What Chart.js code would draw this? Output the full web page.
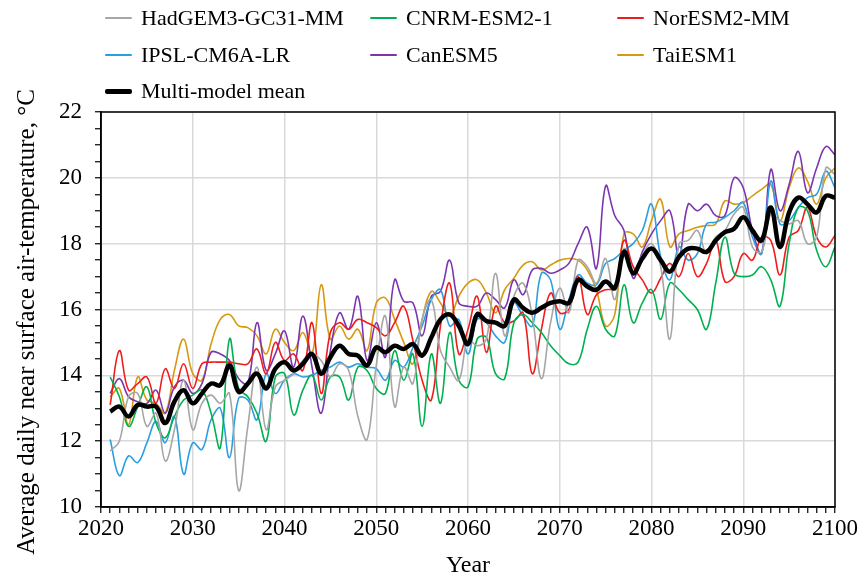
<!DOCTYPE html>
<html>
<head>
<meta charset="utf-8">
<script src="https://cdn.jsdelivr.net/npm/chart.js@4"></script>
<style>
  body { margin: 0; background: #fff; }
  #wrap { position: relative; width: 860px; height: 580px; }
  #legend {
    position: absolute; left: 105px; top: 5px;
    display: grid; grid-template-columns: 265px 247px auto; grid-auto-rows: 36.5px;
    font-family: "Liberation Serif", "Times New Roman", serif; font-size: 22px; color: #000;
  }
  #legend .item { display: flex; align-items: center; height: 26px; white-space: nowrap; }
  #legend .swatch { width: 27px; margin-right: 9px; border-radius: 2px; }
</style>
</head>
<body>
<div id="wrap">
  <canvas id="tempChart" width="860" height="580"></canvas>
  <div id="legend"></div>
</div>
<script>
// années et séries
const years = [];
for (let y = 2021; y <= 2100; y++) years.push(y);

const hadgem = [11.7, 12.0, 13.35, 13.45, 12.45, 12.85, 11.4, 12.35, 13.85, 12.35,
  13.15, 13.4, 13.15, 13.45, 10.5, 12.45, 14.25, 12.35, 13.65, 13.85,
  14.05, 14.45, 14.65, 14.45, 13.95, 14.35, 14.15, 12.75, 12.05, 14.3,
  15.8, 13.05, 14.25, 13.75, 15.7, 16.3, 14.75, 14.25, 13.85, 15.1,
  14.9, 15.1, 17.1, 15.2, 16.4, 16.8, 15.8, 13.9, 15.6, 16.65,
  15.9, 17.5, 17.3, 16.8, 17.55, 16.3, 17.85, 17.1, 17.65, 18.0,
  17.3, 15.1, 18.0, 18.1, 18.4, 17.7, 18.2, 18.4, 18.9, 19.1,
  17.9, 17.75, 18.9, 18.7, 18.6, 18.7, 18.0, 18.2, 20.3, 20.1];

const cnrm = [13.95, 13.35, 12.45, 13.05, 13.65, 12.55, 12.1, 12.75, 13.25, 13.4,
  13.55, 12.85, 11.8, 15.1, 13.6, 13.35, 12.85, 12.0, 13.95, 14.05,
  12.8, 13.55, 14.0, 13.25, 13.95, 13.95, 13.25, 14.25, 14.15, 13.6,
  13.45, 14.75, 13.85, 14.65, 12.45, 14.65, 13.15, 15.3, 13.85, 13.65,
  15.1, 15.15, 14.05, 13.9, 15.6, 15.85, 15.6, 15.3, 14.9, 14.6,
  14.35, 14.4, 15.4, 16.1, 15.4, 15.2, 16.75, 15.6, 16.2, 16.6,
  15.7, 16.8, 16.6, 16.3, 16.0, 15.4, 16.8, 18.2, 17.1, 17.0,
  17.05, 17.3, 16.9, 16.1, 18.0, 19.1, 19.0, 17.8, 17.3, 17.9];

const noresm = [13.1, 14.75, 13.55, 13.75, 13.95, 13.15, 14.2, 13.6, 14.35, 13.6,
  14.35, 14.4, 14.4, 14.4, 14.35, 14.35, 14.8, 14.05, 15.0, 14.45,
  14.65, 14.15, 15.6, 13.45, 15.3, 15.6, 15.4, 15.7, 15.6, 15.45,
  15.2, 15.6, 16.1, 15.05, 13.85, 13.25, 15.5, 16.8, 14.65, 15.4,
  16.4, 14.7, 16.1, 15.6, 15.65, 15.9, 14.05, 15.4, 16.5, 15.9,
  16.0, 17.0, 15.85, 16.45, 16.6, 16.65, 18.1, 17.3, 16.9, 16.5,
  16.95, 17.4, 17.0, 17.7, 17.0, 17.4, 18.1, 16.85, 17.0, 17.7,
  17.5, 18.2, 18.1, 17.05, 18.2, 18.4, 19.1, 18.2, 17.9, 18.25];

const ipsl = [12.05, 10.95, 11.55, 11.35, 11.95, 12.6, 11.95, 12.75, 11.0, 11.95,
  11.75, 12.65, 13.0, 11.5, 13.3, 13.25, 12.65, 14.05, 13.45, 13.85,
  14.05, 13.95, 14.0, 14.15, 14.25, 14.4, 14.25, 14.35, 14.25, 14.2,
  13.85, 14.45, 14.25, 14.85, 15.5, 16.3, 16.6, 15.5, 15.7, 14.65,
  15.7, 15.6, 15.2, 15.0, 16.2, 15.8, 15.5, 17.1, 16.9, 15.4,
  16.3, 17.05, 16.8, 16.75, 17.4, 17.55, 17.8, 18.0, 18.4, 19.2,
  17.6, 16.9, 17.9, 17.5, 17.7, 18.6, 18.65, 18.8, 19.0, 19.25,
  18.2, 17.7, 19.9, 18.6, 18.7, 19.1, 19.4, 19.5, 20.2, 19.7];

const canesm = [13.45, 13.9, 13.35, 13.2, 13.15, 13.55, 12.85, 13.65, 13.85, 13.45,
  13.75, 14.7, 14.65, 14.45, 13.9, 13.75, 15.6, 14.15, 14.65, 15.35,
  14.25, 15.8, 14.25, 12.85, 14.75, 15.9, 15.4, 16.4, 14.45, 15.6,
  14.55, 16.9, 16.25, 16.2, 15.2, 16.4, 16.55, 17.5, 16.2, 16.1,
  16.1, 16.5, 16.3, 16.05, 16.9, 16.45, 17.2, 17.25, 17.1, 17.2,
  17.4, 18.0, 18.5, 17.25, 19.75, 18.85, 18.4, 16.95, 17.75, 18.3,
  18.7, 19.0, 17.6, 19.2, 19.0, 19.2, 18.85, 18.85, 20.0, 19.7,
  18.4, 17.7, 20.25, 19.0, 19.8, 20.8, 19.55, 20.3, 20.95, 20.7];

const taiesm = [13.35, 13.6, 12.5, 13.95, 13.25, 13.15, 12.85, 14.15, 15.1, 14.05,
  13.85, 14.95, 15.7, 15.85, 15.5, 15.45, 15.2, 14.65, 15.4, 15.0,
  14.75, 15.3, 14.65, 16.75, 15.1, 15.5, 15.1, 15.4, 14.75, 16.2,
  16.35, 15.7, 15.0, 14.35, 15.7, 16.55, 16.2, 15.8, 16.4, 16.8,
  16.9, 16.5, 15.9, 16.6, 16.95, 17.35, 17.45, 17.2, 17.35, 17.5,
  17.55, 17.5, 17.2, 16.6, 15.5, 15.85, 18.3, 18.3, 17.9, 18.7,
  19.35, 17.9, 18.3, 18.4, 18.5, 18.55, 18.6, 19.3, 19.2, 19.25,
  19.45, 19.65, 19.8, 18.7, 19.7, 20.3, 19.9, 19.2, 20.0, 20.3];

const mean = [12.9, 13.05, 12.75, 13.1, 13.05, 13.05, 12.55, 13.2, 13.55, 13.15,
  13.45, 13.75, 13.7, 14.3, 13.5, 13.75, 14.05, 13.6, 14.2, 14.4,
  14.15, 14.35, 14.65, 14.05, 14.55, 14.9, 14.65, 14.6, 14.3, 14.85,
  14.7, 14.9, 14.8, 14.95, 14.6, 15.15, 15.7, 15.85, 15.5, 14.95,
  15.85, 15.65, 15.6, 15.5, 16.3, 16.05, 15.9, 16.05, 16.2, 16.25,
  16.2, 16.9, 16.7, 16.6, 16.85, 16.65, 17.75, 17.1, 17.55, 17.85,
  17.5, 17.15, 17.6, 17.85, 17.85, 17.75, 18.1, 18.35, 18.45, 18.8,
  18.4, 18.1, 19.1, 17.9, 18.95, 19.4, 19.2, 18.95, 19.45, 19.4];

const xTicks = [2020, 2030, 2040, 2050, 2060, 2070, 2080, 2090, 2100];
const yTicks = [10, 12, 14, 16, 18, 20, 22];
const yTitle = "Average daily near surface air-temperature, °C";

// ordre de la légende (3 colonnes)
const series = [
  { label: "HadGEM3-GC31-MM", data: hadgem, color: "#a6a6a6" },
  { label: "CNRM-ESM2-1", data: cnrm, color: "#00b050" },
  { label: "NorESM2-MM", data: noresm, color: "#ee1c1c" },
  { label: "IPSL-CM6A-LR", data: ipsl, color: "#2a9fe0" },
  { label: "CanESM5", data: canesm, color: "#7c35b0" },
  { label: "TaiESM1", data: taiesm, color: "#d7990f" },
  { label: "Multi-model mean", data: mean, color: "#000000" }
];

const FONT = "'Liberation Serif', 'Times New Roman', serif";

// légende HTML
const legend = document.getElementById("legend");
series.forEach(s => {
  const item = document.createElement("div");
  item.className = "item";
  const sw = document.createElement("span");
  sw.className = "swatch";
  sw.style.background = s.color;
  sw.style.height = s.label === "Multi-model mean" ? "5px" : "2px";
  item.appendChild(sw);
  item.appendChild(document.createTextNode(s.label));
  legend.appendChild(item);
});

// cadre autour de la zone de tracé + titre vertical (décalé vers le bas comme l'original)
const frame = {
  id: "frame",
  afterDraw(chart) {
    const { ctx, chartArea: a } = chart;
    ctx.save();
    ctx.strokeStyle = "#000";
    ctx.lineWidth = 1.5;
    ctx.strokeRect(a.left, a.top, a.right - a.left, a.bottom - a.top);
    ctx.translate(27, 322);
    ctx.rotate(-Math.PI / 2);
    ctx.fillStyle = "#000";
    ctx.font = "25px " + FONT;
    ctx.textAlign = "center";
    ctx.textBaseline = "middle";
    ctx.fillText(yTitle, 0, 0);
    ctx.restore();
  }
};

const datasets = series.map((s, i) => {
  const isMean = s.label === "Multi-model mean";
  return {
    label: s.label,
    data: years.map((y, k) => ({ x: y, y: s.data[k] })),
    borderColor: s.color,
    backgroundColor: s.color,
    borderWidth: isMean ? 4.5 : 1.6,
    pointRadius: 0,
    tension: 0.4,
    fill: false,
    order: isMean ? 0 : 1 + i
  };
});

new Chart(document.getElementById("tempChart").getContext("2d"), {
  type: "line",
  data: { datasets },
  options: {
    responsive: false,
    animation: false,
    layout: { padding: { top: 112, right: 25, left: 0, bottom: 0 } },
    plugins: { legend: { display: false }, tooltip: { enabled: false } },
    scales: {
      x: {
        type: "linear",
        min: 2020, max: 2100,
        afterFit: sc => { sc.height = 73; },
        afterBuildTicks: sc => {
          const t = [];
          for (let v = 2020; v <= 2100; v++) t.push({ value: v });
          sc.ticks = t;
        },
        ticks: {
          autoSkip: false, maxRotation: 0, padding: 2, color: "#000",
          font: { family: FONT, size: 23 },
          callback: v => xTicks.includes(v) ? String(v) : ""
        },
        grid: {
          color: c => (c.tick && xTicks.includes(c.tick.value)) ? "#d9d9d9" : "rgba(0,0,0,0)",
          lineWidth: 1.5,
          tickColor: "#000", tickLength: 6, tickWidth: 1.2
        },
        border: { color: "#000", width: 1.5 },
        title: {
          display: true, text: "Year", color: "#000",
          font: { family: FONT, size: 24 }, padding: { top: 0, bottom: 0 }
        }
      },
      y: {
        min: 10, max: 22,
        afterFit: sc => { sc.width = 101; },
        afterBuildTicks: sc => {
          const t = [];
          for (let v = 10; v <= 22; v += 0.5) t.push({ value: v });
          sc.ticks = t;
        },
        ticks: {
          autoSkip: false, padding: 13, color: "#000",
          font: { family: FONT, size: 23 },
          callback: v => yTicks.includes(v) ? String(v) : ""
        },
        grid: {
          color: c => (c.tick && yTicks.includes(c.tick.value)) ? "#d9d9d9" : "rgba(0,0,0,0)",
          lineWidth: 1.5,
          tickColor: "#000", tickLength: 6, tickWidth: 1.2
        },
        border: { color: "#000", width: 1.5 },
        title: { display: false }
      }
    }
  },
  plugins: [frame]
});
</script>
</body>
</html>
